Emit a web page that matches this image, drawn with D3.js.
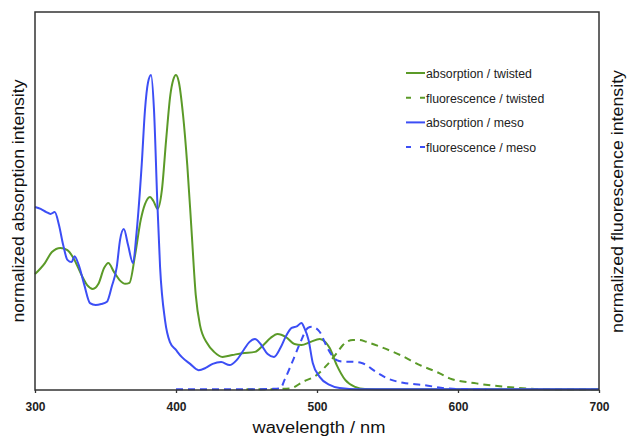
<!DOCTYPE html>
<html>
<head>
<meta charset="utf-8">
<script src="https://cdn.jsdelivr.net/npm/d3@7"></script>
<style>
  body { margin: 0; background: #fff; }
  svg { display: block; font-family: "Liberation Sans", Arial, sans-serif; }
</style>
</head>
<body>
<svg id="chart"></svg>
<script>
// absorption / twisted
var absTwistedX = [300,307,312,318,323,328,333,337,341,345,349,352,356,360,364,367,371,375,378,381.5,384,387,390,393,396,398,400,402,405,408,411,414,417,422,427,433,440,447,456,462,467,472,478,484,489,495,502,506,509,514,520,527,534,550,600,650,700];
var absTwistedY = [.368,.403,.438,.451,.444,.413,.365,.333,.321,.337,.387,.403,.375,.349,.337,.340,.429,.540,.590,.613,.600,.575,.635,.794,.937,.984,1.0,.978,.873,.714,.508,.302,.206,.149,.121,.105,.111,.117,.121,.143,.165,.178,.168,.146,.143,.152,.162,.152,.133,.079,.032,.010,.003,.002,.002,.002,.002];

// fluorescence / twisted
var fluTwistedX = [450,470,481,490,500,507,514,518.4,525.5,530,535,545,559,573,587,594,613,637,658,680,700];
var fluTwistedY = [.002,.003,.005,.026,.048,.079,.117,.143,.159,.159,.153,.137,.111,.079,.053,.037,.021,.009,.003,.002,.002];

// absorption / meso
var absMesoX = [300,304,308,311,314,317,320,323,326,328,331,335,339,343,347,351,354.4,358,360.3,363,366,369.5,372,375.7,378,380.1,382.3,384.4,386.7,388.7,392.2,395.7,400,404,410,416,421,426,432,438,443,448,452,456,460,465,469.5,474,478,482,486,489,491,494,497,502,509,516,530,600,700];
var absMesoY = [.581,.575,.565,.559,.565,.524,.460,.413,.406,.425,.397,.333,.276,.270,.273,.280,.328,.391,.476,.511,.460,.403,.498,.717,.889,.975,1.0,.889,.603,.391,.222,.152,.127,.105,.083,.063,.070,.083,.089,.079,.095,.127,.152,.162,.146,.114,.105,.133,.171,.197,.203,.213,.197,.159,.086,.041,.016,.006,.002,.002,.002];

// fluorescence / meso
var fluMesoX = [400,440,465,470,474,477,481,484.5,488,493.6,496.2,499,502,507,510,514,519,523.4,531.7,536,540,545,549.4,561,575,592,600,620];
var fluMesoY = [.002,.002,.003,.004,.005,.032,.073,.111,.149,.197,.201,.197,.184,.137,.114,.095,.090,.090,.086,.076,.063,.049,.038,.023,.016,.005,.003,.002];

var xTicks = [300, 400, 500, 600, 700];
var legendLabels = ["absorption / twisted", "fluorescence / twisted", "absorption / meso", "fluorescence / meso"];

var green = "#5b9a28", blue = "#3c4ef5";

var series = [
  { x: absTwistedX, y: absTwistedY, color: green, dashed: false },
  { x: fluTwistedX, y: fluTwistedY, color: green, dashed: true },
  { x: absMesoX, y: absMesoY, color: blue, dashed: false },
  { x: fluMesoX, y: fluMesoY, color: blue, dashed: true }
];

var width = 627, height = 437;
var margin = { top: 12, right: 28, bottom: 47, left: 35 };

var svg = d3.select("#chart")
  .attr("width", width)
  .attr("height", height);

var x = d3.scaleLinear().domain([300, 700]).range([margin.left, width - margin.right]);
var y = d3.scaleLinear().domain([0, 1.2]).range([height - margin.bottom, margin.top]);

var line = d3.line()
  .x(d => x(d[0]))
  .y(d => y(d[1]))
  .curve(d3.curveMonotoneX);

// curves
series.forEach(function(s) {
  var pts = s.x.map((v, i) => [v, s.y[i]]);
  svg.append("path")
    .datum(pts)
    .attr("fill", "none")
    .attr("stroke", s.color)
    .attr("stroke-width", 2)
    .attr("stroke-dasharray", s.dashed ? "7,5" : null)
    .attr("d", line);
});

// frame
svg.append("rect")
  .attr("x", x(300))
  .attr("y", y(1.2))
  .attr("width", x(700) - x(300))
  .attr("height", y(0) - y(1.2))
  .attr("fill", "none")
  .attr("stroke", "#333")
  .attr("stroke-width", 1.5);

// x axis
var xAxis = svg.append("g")
  .attr("transform", "translate(0," + y(0) + ")")
  .call(d3.axisBottom(x).tickValues(xTicks).tickSizeInner(3).tickSizeOuter(0).tickPadding(9).tickFormat(d3.format("d")));
xAxis.select(".domain").remove();
xAxis.selectAll("line").attr("stroke", "#333").attr("stroke-width", 1.3);
xAxis.selectAll("text")
  .attr("fill", "#222")
  .style("font-family", "'Liberation Sans', Arial, sans-serif")
  .style("font-size", "12px")
  .style("font-weight", "bold");

// axis titles
svg.append("text")
  .attr("x", 319)
  .attr("y", 433)
  .attr("text-anchor", "middle")
  .attr("textLength", 133)
  .attr("lengthAdjust", "spacingAndGlyphs")
  .style("font-size", "16px")
  .attr("fill", "#111")
  .text("wavelength / nm");

svg.append("text")
  .attr("transform", "translate(24,201) rotate(-90)")
  .attr("text-anchor", "middle")
  .attr("textLength", 243)
  .attr("lengthAdjust", "spacingAndGlyphs")
  .style("font-size", "16px")
  .attr("fill", "#111")
  .text("normalized absorption intensity");

svg.append("text")
  .attr("transform", "translate(623,201.5) rotate(-90)")
  .attr("text-anchor", "middle")
  .attr("textLength", 263)
  .attr("lengthAdjust", "spacingAndGlyphs")
  .style("font-size", "16px")
  .attr("fill", "#111")
  .text("normalized fluorescence intensity");

// legend
var legend = svg.append("g").attr("transform", "translate(406,73)");
legendLabels.forEach(function(label, i) {
  var s = series[i];
  var row = legend.append("g").attr("transform", "translate(0," + (i * 24.7) + ")");
  row.append("line")
    .attr("x1", 0).attr("x2", 19)
    .attr("y1", 0).attr("y2", 0)
    .attr("stroke", s.color)
    .attr("stroke-width", 2)
    .attr("stroke-dasharray", s.dashed ? "5,9,5" : null);
  row.append("text")
    .attr("x", 20)
    .attr("y", 5)
    .style("font-size", "12.3px")
    .attr("fill", "#222")
    .text(label);
});
</script>
</body>
</html>
